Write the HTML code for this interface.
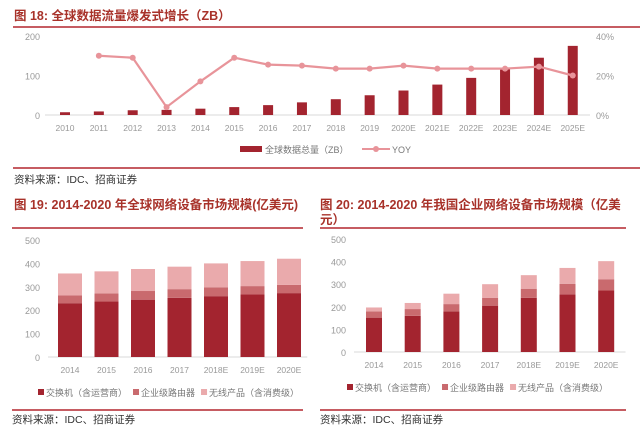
<!DOCTYPE html>
<html><head><meta charset="utf-8"><style>
body{margin:0;width:640px;height:429px;background:#fff;overflow:hidden;font-family:"Liberation Sans","Noto Sans CJK SC",sans-serif}
svg text{font-family:"Liberation Sans","Noto Sans CJK SC",sans-serif}
</style></head><body>
<svg id="s" width="640" height="429">
<text x="14" y="20" font-size="12.5" font-weight="bold" fill="#a8322a">图 18: 全球数据流量爆发式增长（ZB）</text>
<line x1="13" y1="27" x2="640" y2="27" stroke="#b3262e" stroke-width="1.5"/>
<line x1="13" y1="168" x2="640" y2="168" stroke="#b3262e" stroke-width="1.5"/>
<text x="14" y="183" font-size="10.5" fill="#333">资料来源：IDC、招商证券</text>
<text x="14" y="209" font-size="12.5" font-weight="bold" fill="#a8322a">图 19: 2014-2020 年全球网络设备市场规模(亿美元)</text>
<line x1="12" y1="228" x2="303" y2="228" stroke="#b3262e" stroke-width="1.5"/>
<line x1="12" y1="410" x2="303" y2="410" stroke="#b3262e" stroke-width="1.5"/>
<text x="12" y="423" font-size="10.5" fill="#333">资料来源：IDC、招商证券</text>
<text x="320" y="209" font-size="12.5" font-weight="bold" fill="#a8322a">图 20: 2014-2020 年我国企业网络设备市场规模（亿美</text>
<text x="320" y="224" font-size="12.5" font-weight="bold" fill="#a8322a">元）</text>
<line x1="320" y1="228" x2="626" y2="228" stroke="#b3262e" stroke-width="1.5"/>
<line x1="320" y1="410" x2="626" y2="410" stroke="#b3262e" stroke-width="1.5"/>
<text x="320" y="423" font-size="10.5" fill="#333">资料来源：IDC、招商证券</text>
</svg>
<script>
const cats18=["2010","2011","2012","2013","2014","2015","2016","2017","2018","2019","2020E","2021E","2022E","2023E","2024E","2025E"];
const vol18=[7,9,12,13,16,20,25,32,40,50,62,77,94,118,145,175];
const yoy18=[null,30,29,4,17,29,25.5,25,23.5,23.5,25,23.5,23.5,23.5,24.5,20];
const ticks18L=[0,100,200];
const ticks18R=[0,20,40];
const cats19=["2014","2015","2016","2017","2018E","2019E","2020E"];
const sw19=[230,237,245,253,260,267,273];
const rt19=[33,35,37,37,38,36,35];
const wl19=[94,94,94,96,102,107,112];
const sw20=[152,160,180,205,240,255,272];
const rt20=[28,30,32,35,40,47,50];
const wl20=[17,27,46,60,60,70,80];
const ticksB=[0,100,200,300,400,500];
const NS="http://www.w3.org/2000/svg",S=document.getElementById('s');
function mk(t,a,txt){const e=document.createElementNS(NS,t);for(const k in a)e.setAttribute(k,a[k]);if(txt!=null)e.textContent=txt;S.appendChild(e);return e;}
const C1="#a3242f",C2="#c96a6e",C3="#eaaaac",G="#999";
// Chart 18
const x18=i=>65+i*33.85, yL=v=>115-v*79/200, yR=v=>115-v*79/40;
mk('line',{x1:45,y1:115,x2:590,y2:115,stroke:'#d9d9d9'});
ticks18L.forEach(t=>{const e=mk('text',{x:40,y:yL(t)+4,'font-size':9,fill:G,'text-anchor':'end'},t);

});
ticks18R.forEach(t=>{const e=mk('text',{x:596,y:yR(t)+4,'font-size':9,fill:G},t+'%');

});
cats18.forEach((c,i)=>{const e=mk('text',{x:x18(i),y:131,'font-size':8.5,fill:G,'text-anchor':'middle'},c);


const b=mk('rect',{x:x18(i)-5,y:yL(vol18[i]),width:10,height:115-yL(vol18[i]),fill:C1});

});
let pts=[];yoy18.forEach((v,i)=>{if(v!=null)pts.push(x18(i)+','+yR(v));});
const pl=mk('polyline',{points:pts.join(' '),fill:'none',stroke:'#e8949a','stroke-width':2.2});


yoy18.forEach((v,i)=>{if(v==null)return;const d=mk('circle',{cx:x18(i),cy:yR(v),r:3,fill:'#e8949a'});

});
mk('rect',{x:240,y:146,width:22,height:6,fill:C1});
mk('text',{x:265,y:153,'font-size':9,fill:'#777'},'全球数据总量（ZB）');
mk('line',{x1:362,y1:149,x2:390,y2:149,stroke:'#e8949a','stroke-width':2});
mk('circle',{cx:376,cy:149,r:3,fill:'#e8949a'});
mk('text',{x:392,y:153,'font-size':9,fill:'#777'},'YOY');
// stacked charts
function stacked(pre,x0,step,bw,y0,y500,lx,sw,rt,wl,legY,legX){
 const y=v=>y0-v*(y0-y500)/500;
 mk('line',{x1:lx+8,y1:y0,x2:x0+step*6+step/2,y2:y0,stroke:'#d9d9d9'});
 ticksB.forEach(t=>{const e=mk('text',{x:lx,y:y(t)+4,'font-size':9,fill:G,'text-anchor':'end'},t);
 
 });
 cats19.forEach((c,i)=>{const cx=x0+i*step;
  const e=mk('text',{x:cx,y:y0+16,'font-size':8.5,fill:G,'text-anchor':'middle'},c);
  
  
  let base=0;[[sw[i],C1,'switch'],[rt[i],C2,'router'],[wl[i],C3,'wireless']].forEach(([v,col,n])=>{
   const r=mk('rect',{x:cx-bw/2,y:y(base+v),width:bw,height:y(base)-y(base+v),fill:col});
   
   
   base+=v;});});
 const L=[['交换机（含运营商）',C1],['企业级路由器',C2],['无线产品（含消费级）',C3]];
 let xx=legX;L.forEach(([t,col],k)=>{mk('rect',{x:xx,y:legY-7,width:6,height:6,fill:col});
  const e=mk('text',{x:xx+8,y:legY,'font-size':9,fill:'#777'},t);
  
  
  xx+=8+e.getComputedTextLength()+6;});
}
stacked('fig19',70,36.5,24,357,240,40,sw19,rt19,wl19,396,38);
stacked('fig20',374,38.7,16,352,239,346,sw20,rt20,wl20,391,347);
</script>
</body></html>
